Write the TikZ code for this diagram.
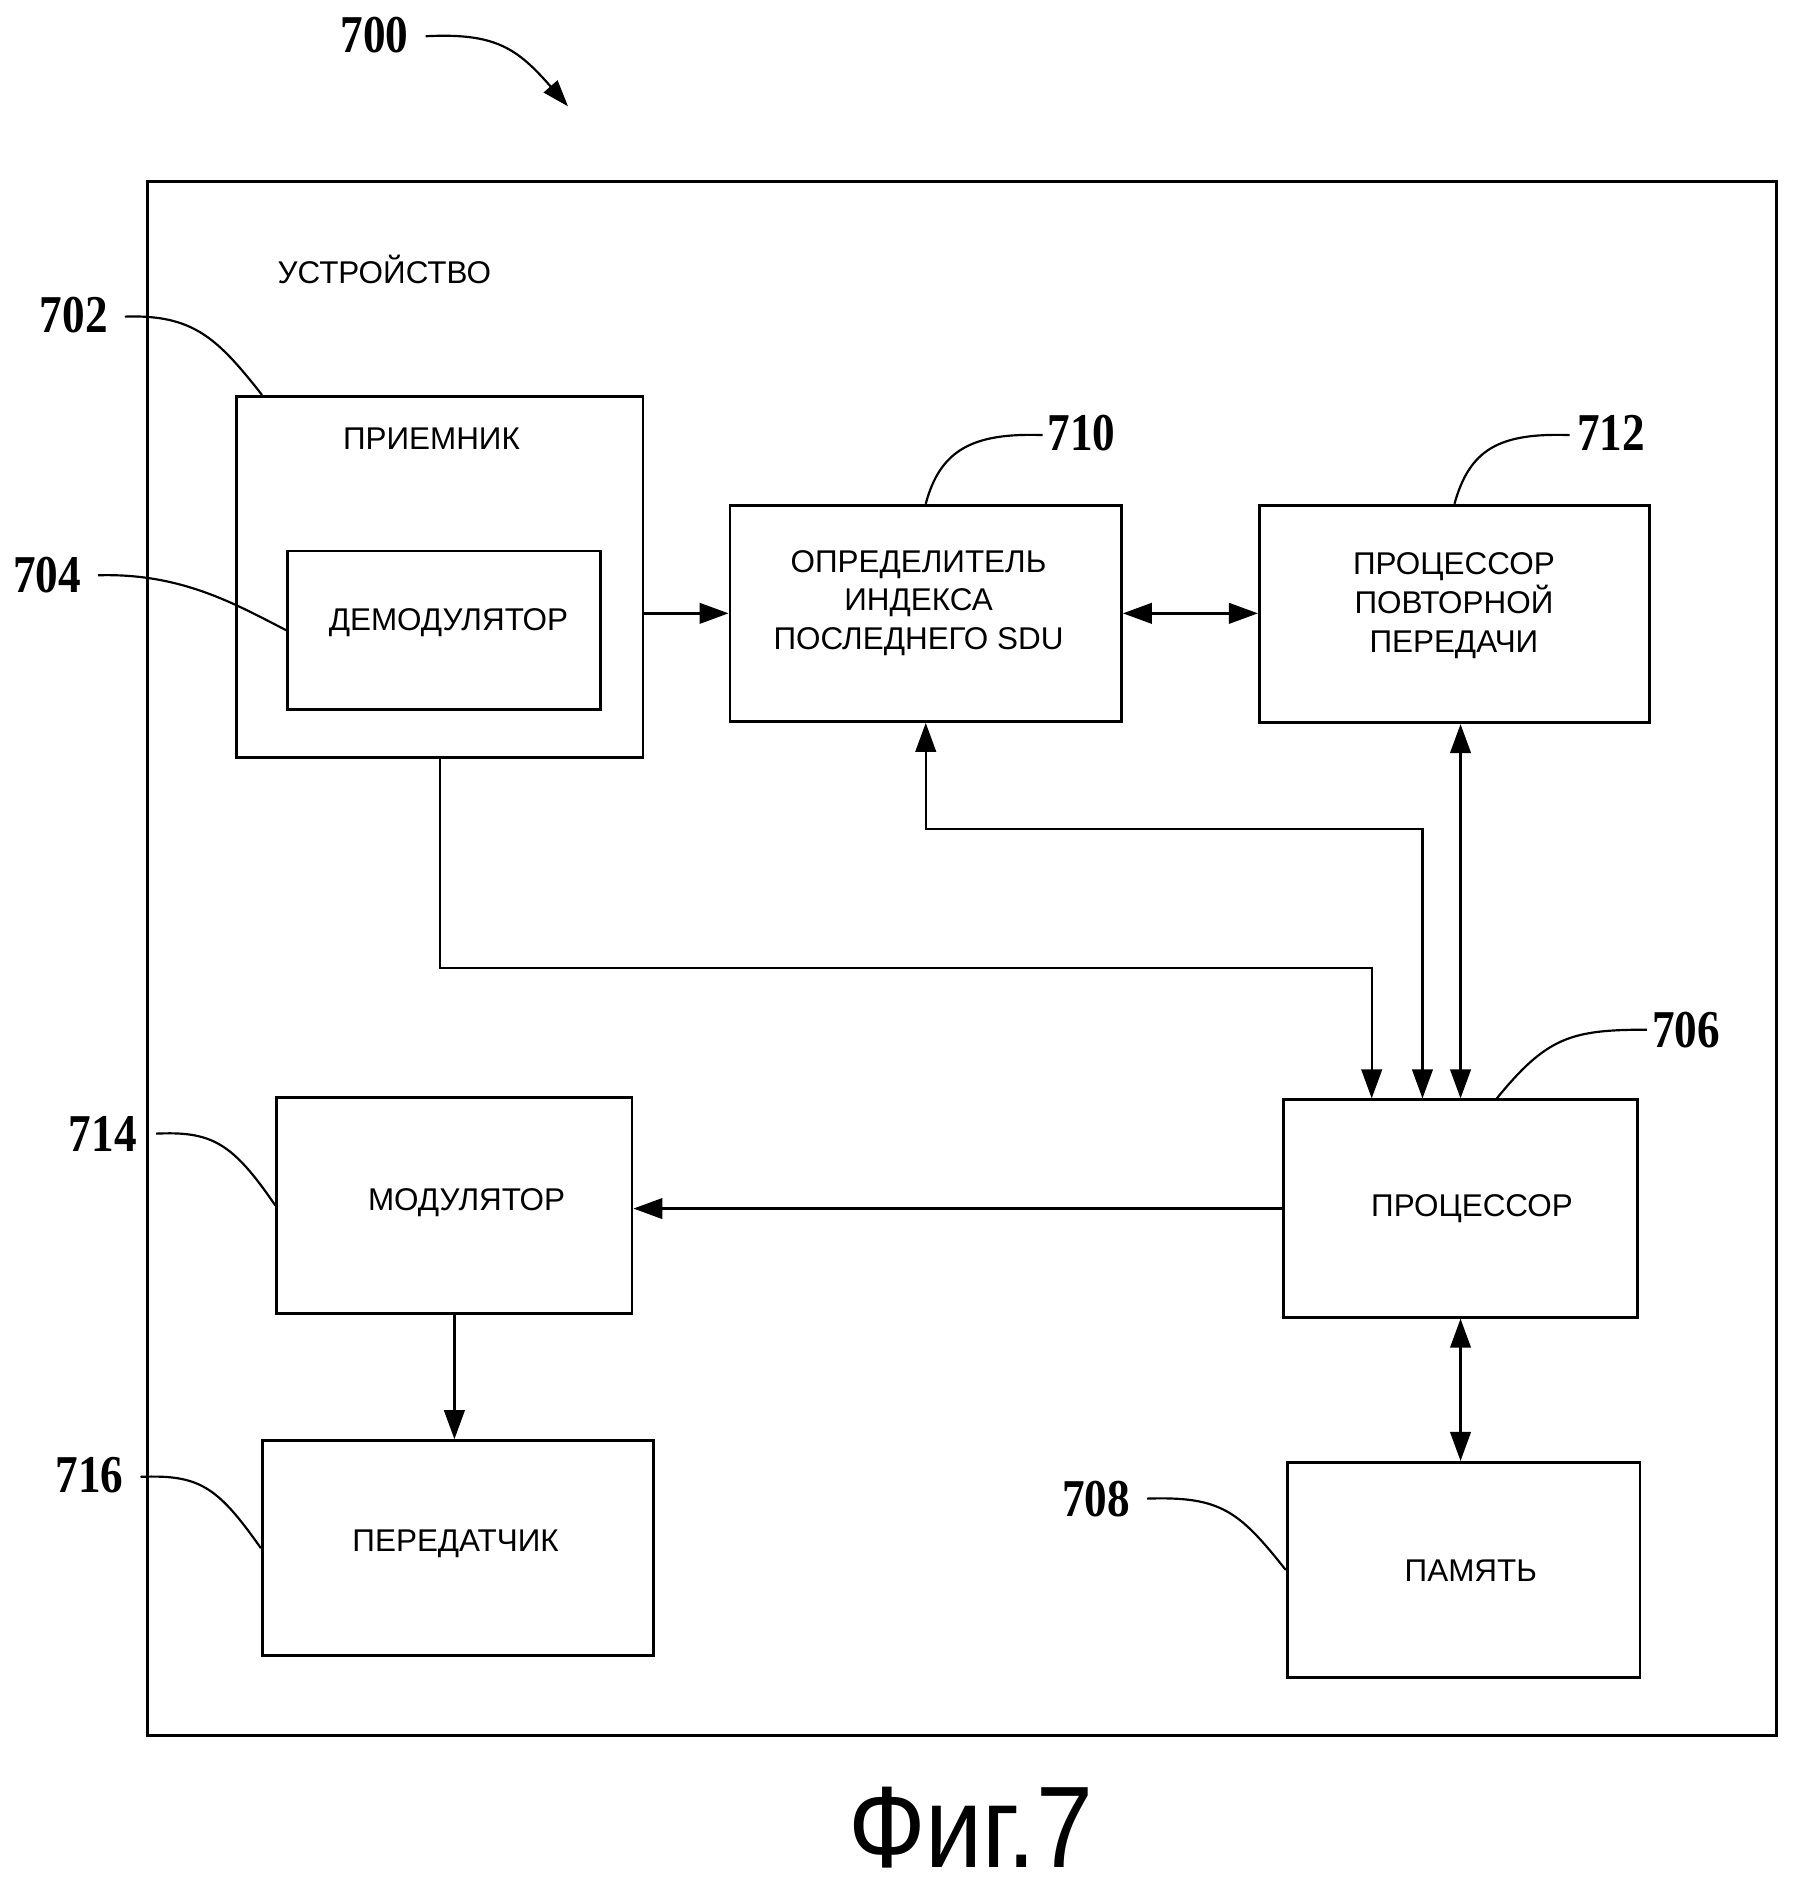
\documentclass[tikz,border=0pt]{standalone}
\usepackage{fontspec}
\setmainfont{Liberation Sans}
\newfontfamily\numfont{Liberation Serif}[FakeStretch=0.85]
\newfontfamily\figfont{Liberation Sans}[FakeStretch=0.88]
\usetikzlibrary{arrows.meta,calc}
\begin{document}
\begin{tikzpicture}[x=1pt,y=-1pt,
  box/.style={draw,line width=2.3pt,inner sep=0pt},
  lbl/.style={font=\fontsize{26}{32}\selectfont,align=center,inner sep=0pt},
  num/.style={font=\numfont\bfseries\fontsize{44}{44}\selectfont,inner sep=0pt},
  conn/.style={line width=2pt},
  tip/.style={-{Triangle[length=24pt,width=17pt]}},
  dtip/.style={{Triangle[length=24pt,width=17pt]}-{Triangle[length=24pt,width=17pt]}},
  leader/.style={line width=1.8pt}
]
\useasboundingbox (0,0) rectangle (1500,1568);

% boxes
\node[box,minimum width=1348pt,minimum height=1286pt] (dev) at (796,793) {};
\node[box,minimum width=336pt,minimum height=299pt] (rx) at (364,477.5) {};
\node[box,minimum width=259pt,minimum height=131pt] (dm) at (367.5,521.5) {};
\node[box,minimum width=324pt,minimum height=179pt] (det) at (766,507.5) {};
\node[box,minimum width=323pt,minimum height=180pt] (ret) at (1203.5,508) {};
\node[box,minimum width=293pt,minimum height=180pt] (pr) at (1208.5,1000) {};
\node[box,minimum width=292pt,minimum height=178pt] (mem) at (1211,1299) {};
\node[box,minimum width=294pt,minimum height=179pt] (mod) at (376,997.5) {};
\node[box,minimum width=324pt,minimum height=178pt] (tx) at (379,1281) {};

% texts
\node[lbl] (tdev) at (318,223) {УСТРОЙСТВО};
\node[lbl] (trx) at (357,363) {ПРИЕМНИК};
\node[lbl] (tdm) at (371,515) {ДЕМОДУЛЯТОР};
\node[lbl] (tdet) at (760,499) {ОПРЕДЕЛИТЕЛЬ\\ИНДЕКСА\\ПОСЛЕДНЕГО SDU};
\node[lbl] (tret) at (1203,501) {ПРОЦЕССОР\\ПОВТОРНОЙ\\ПЕРЕДАЧИ};
\node[lbl] (tpr) at (1218,1000) {ПРОЦЕССОР};
\node[lbl] (tmem) at (1217,1300) {ПАМЯТЬ};
\node[lbl] (tmod) at (386,995) {МОДУЛЯТОР};
\node[lbl] (ttx) at (377,1277) {ПЕРЕДАТЧИК};
\node[inner sep=0pt,font=\figfont\fontsize{96}{96}\selectfont] (fig) at (803,1512) {Фиг.7};

% reference numerals
\node[num] (n700) at (310,29) {700};
\node[num] (n702) at (61,261) {702};
\node[num] (n704) at (39,476) {704};
\node[num] (n710) at (895,358) {710};
\node[num] (n712) at (1333,358) {712};
\node[num] (n706) at (1395,852) {706};
\node[num] (n708) at (907,1240) {708};
\node[num] (n714) at (85,938) {714};
\node[num] (n716) at (74,1221) {716};

% leaders
\draw[leader,-{Triangle[length=22pt,width=15pt]}] ($(n700.east)+(14,1)$) .. controls (410,27) and (428,40) .. (470,88);
\draw[leader] ($(n702.east)+(14,1)$) .. controls (160,260) and (180,280) .. ($(rx.north west)+(22,0)$);
\draw[leader] ($(n704.east)+(14,0)$) .. controls (150,474) and (195,500) .. (dm.west);
\draw[leader] ($(n710.west)+(-4,2)$) .. controls (805,358) and (778,372) .. (det.north);
\draw[leader] ($(n712.west)+(-6,2)$) .. controls (1240,358) and (1216,372) .. (ret.north);
\draw[leader] ($(n706.west)+(-4,0)$) .. controls (1300,852) and (1280,858) .. ($(pr.north)+(30,0)$);
\draw[leader] ($(n708.east)+(14,0)$) .. controls (1010,1238) and (1025,1250) .. (mem.west);
\draw[leader] ($(n714.east)+(16,0)$) .. controls (175,936) and (192,945) .. (mod.west);
\draw[leader] ($(n716.east)+(14,1)$) .. controls (165,1220) and (180,1230) .. (tx.west);

% connectors
\coordinate (j1) at (1135,801);
\coordinate (j2) at (1177,686);
\draw[conn,tip] (det.west -| rx.east) -- (det.west);
\draw[conn,dtip] (det.east) -- (det.east -| ret.west);
\draw[conn,tip] (rx.south) |- (j1) -- (j1 |- pr.north);
\draw[conn,dtip] (det.south) |- (j2) -- (j2 |- pr.north);
\draw[conn,dtip] (pr.north) -- (pr.north |- ret.south);
\draw[conn,tip] (pr.west) -- (pr.west -| mod.east);
\draw[conn,tip] (mod.south) -- (mod.south |- tx.north);
\draw[conn,dtip] (pr.south) -- (pr.south |- mem.north);
\end{tikzpicture}
\end{document}
